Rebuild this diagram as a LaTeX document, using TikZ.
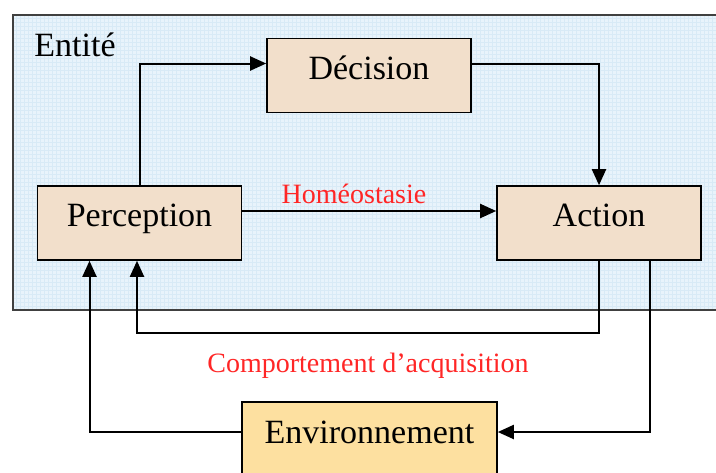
\documentclass[tikz,border=0pt]{standalone}
\usepackage{fontspec}
\setmainfont{Liberation Serif}
\usetikzlibrary{arrows.meta}
\definecolor{entcol}{HTML}{E8F3FB}
\definecolor{gridcol}{HTML}{D8EAF6}
\definecolor{boxcol}{HTML}{F2DFCB}
\definecolor{envcol}{HTML}{FDE0A0}
\definecolor{labelcol}{HTML}{FF2626}

\begin{document}
\begin{tikzpicture}[
  x=0.5pt, y=-0.5pt,
  entbox/.style={draw=black!75, line width=1pt, fill=entcol, inner sep=0pt,
    path picture={\draw[gridcol, line width=0.2pt, step=2pt]
      (path picture bounding box.south west) grid (path picture bounding box.north east);}},
  box/.style={draw, line width=0.8pt, fill=boxcol, minimum width=102pt, minimum height=37pt,
    font=\fontsize{17}{20}\selectfont, align=center, text height=0.7em, text depth=0.35em},
  conn/.style={-{Triangle[length=8pt, width=7pt]}, line width=1pt},
  lbl/.style={font=\fontsize{14}{16}\selectfont, text=labelcol},
]
\useasboundingbox (0,0) rectangle (716,472);
\clip (0,0) rectangle (716,472);

% Entity frame
\node[entbox, anchor=north west, minimum width=355pt, minimum height=147.5pt] (ent) at (12,14) {};
\node[anchor=west, inner sep=0pt, font=\fontsize{17}{20}\selectfont] (entlbl) at (34,45) {Entité};

% Boxes inside the entity
\node[box] (dec) at (369,75.5) {Décision};
\node[box] (perc) at (139.5,223) {Perception};
\node[box] (act) at (599,223) {Action};

% Environment below
\node[box, fill=envcol, minimum width=127.5pt, minimum height=38pt] (env) at (369.5,440) {Environnement};

% perception -> decision -> action
\draw[conn] (perc.north) |- ([yshift=6pt]dec.west);
\draw[conn] ([yshift=6pt]dec.east) -| (act.north);
% perception -> action (homeostasis)
\draw[conn] ([yshift=6pt]perc.east) -- node[lbl, above=0pt, pos=0.44] {Homéostasie} ([yshift=6pt]act.west);

% acquisition loop: action back to perception
\coordinate (acq) at (137,333);
\draw[conn] (act.south) |- node[lbl, below=6pt, pos=0.75] {Comportement d’acquisition} (acq) -- (acq |- perc.south);

% action -> environment -> perception
\draw[conn] ([xshift=25.5pt]act.south) |- ([yshift=4pt]env.east);
\draw[conn] ([yshift=4pt]env.west) -| ([xshift=-25pt]perc.south);

\end{tikzpicture}
\end{document}
